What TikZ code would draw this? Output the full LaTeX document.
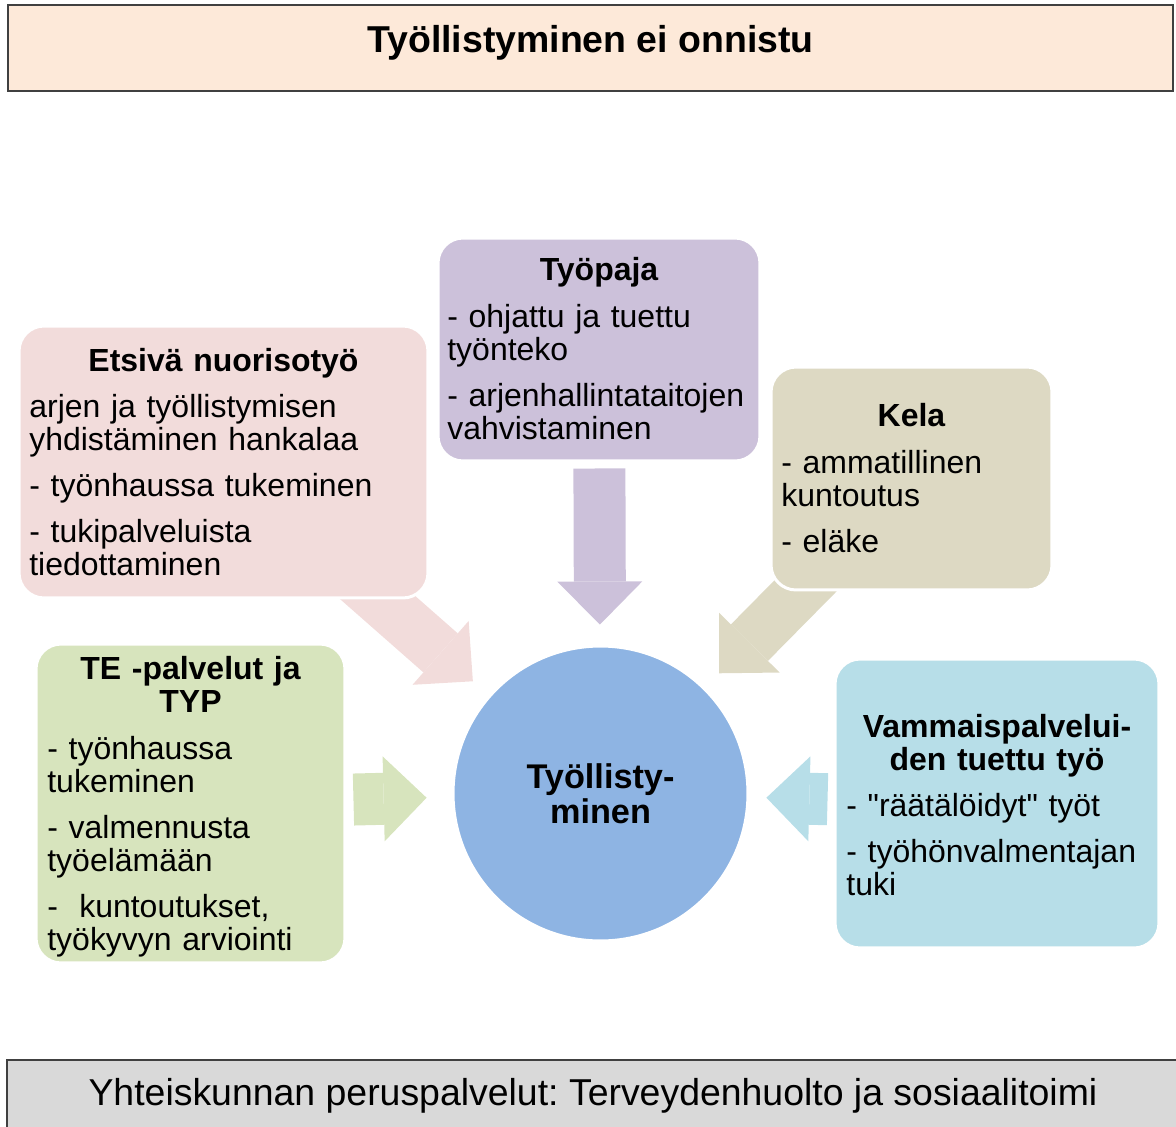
\documentclass[tikz,border=0pt]{standalone}
\usepackage{fontspec}
\setmainfont{Liberation Sans}
\newfontfamily\quotefont{Liberation Sans}
\usepackage{xcolor}
\usetikzlibrary{arrows.meta, backgrounds}

\definecolor{topc}{HTML}{FDE9D9}
\definecolor{bottomc}{HTML}{D9D9D9}
\definecolor{etsivac}{HTML}{F2DCDB}
\definecolor{pajac}{HTML}{CCC1DA}
\definecolor{kelac}{HTML}{DDD9C3}
\definecolor{tec}{HTML}{D7E4BD}
\definecolor{vammaisc}{HTML}{B7DEE8}
\definecolor{ctrc}{HTML}{8EB4E3}

\newcommand{\qt}{{\quotefont"}}
\frenchspacing

\tikzset{
  box/.style={rectangle, rounded corners=0.5cm, draw=white, line width=0.06cm},
  boxtitle/.style={anchor=base, align=center, text width=7cm, inner sep=0pt,
    font=\fontsize{18.2}{18.8}\selectfont\bfseries},
  boxtext/.style={anchor=base west, align=left, text width=8cm, inner sep=0pt,
    font=\fontsize{18.2}{18.8}\selectfont},
  blockarr/.style={line width=1.04cm,
    -{Triangle[length=0.86cm, width=1.7cm, line width=0pt]}},
}

\begin{document}
\begin{tikzpicture}[x=0.02cm, y=-0.02cm]
                \useasboundingbox (0,0) rectangle (1176,1126);
                \clip (0,0) rectangle (1176,1126);

                \node[rectangle, draw=black!75, line width=0.8pt, fill=topc, minimum width=23.3cm, minimum height=1.72cm,
                    text height=0.54cm, text depth=0.38cm, font=\fontsize{21.3}{24}\selectfont\bfseries] (top) at (590.5,48) {Työllistyminen ei onnistu};
                \node[rectangle, draw=black!75, line width=0.8pt, fill=bottomc, minimum width=23.44cm, minimum height=1.6cm,
                    text height=0.54cm, text depth=0.34cm, font=\fontsize{21.3}{24}\selectfont] (bottom) at (593,1100) {Yhteiskunnan peruspalvelut: Terveydenhuolto ja sosiaalitoimi};

                \node[circle, draw=white, line width=0.06cm, fill=ctrc, minimum size=5.9cm, align=center,
                    font=\fontsize{19.5}{19.9}\selectfont\bfseries] (ctr) at (600.5,793.5) {Työllisty-\\minen};

                \node[box, fill=etsivac, minimum width=8.18cm, minimum height=5.44cm] (etsiva) at (223.5,462) {};
                \node[box, fill=pajac, minimum width=6.44cm, minimum height=4.46cm] (tyopaja) at (599,349.5) {};
                \node[box, fill=kelac, minimum width=5.62cm, minimum height=4.46cm] (kela) at (911.5,478.5) {};
                \node[box, fill=tec, minimum width=6.18cm, minimum height=6.38cm] (te) at (190.5,803.5) {};
                \node[box, fill=vammaisc, minimum width=6.48cm, minimum height=5.78cm] (vammais) at (997,803.5) {};

                \node[boxtitle] (etsivatitle) at (223.5,371) {Etsivä nuorisotyö};
                \node[boxtext] (etsivatext) at (29,417) {arjen ja työllistymisen\\yhdistäminen hankalaa\\[7.5pt]- työnhaussa tukeminen\\[7.5pt]- tukipalveluista\\tiedottaminen};

                \node[boxtitle] (tyopajatitle) at (599,280) {Työpaja};
                \node[boxtext] (tyopajatext) at (447,327) {- ohjattu ja tuettu\\työnteko\\[7.5pt]- arjenhallintataitojen\\vahvistaminen};

                \node[boxtitle] (kelatitle) at (911.5,426) {Kela};
                \node[boxtext] (kelatext) at (781,473) {- ammatillinen\\kuntoutus\\[7.5pt]- eläke};

                \node[boxtitle] (tetitle) at (190.5,679) {TE -palvelut ja\\TYP};
                \node[boxtext] (tetext) at (47,759) {- työnhaussa\\tukeminen\\[7.5pt]- valmennusta\\työelämään\\[7.5pt]-\ \ kuntoutukset,\\työkyvyn arviointi};

                \node[boxtitle] (vammaistitle) at (997,737) {Vammaispalvelui-\\den tuettu työ};
                \node[boxtext] (vammaistext) at (846,816) {- \qt räätälöidyt\qt{} työt\\[7.5pt]- työhönvalmentajan\\tuki};

                \begin{pgfonlayer}{background}
                \draw[blockarr, draw=etsivac, fill=etsivac, shorten >=0.42cm] (etsiva.center) to (ctr);
                \draw[blockarr, draw=pajac, fill=pajac, shorten <=0.12cm, shorten >=0.4cm] (tyopaja) to (ctr);
                \draw[blockarr, draw=kelac, fill=kelac, shorten >=0.4cm] (kela.center) to (ctr);
                \draw[blockarr, draw=tec, fill=tec, shorten <=0.14cm, shorten >=0.5cm] (te) to (ctr);
                \draw[blockarr, draw=vammaisc, fill=vammaisc, shorten <=0.12cm, shorten >=0.34cm] (vammais) to (ctr);
                \end{pgfonlayer}
            \end{tikzpicture}
\end{document}
